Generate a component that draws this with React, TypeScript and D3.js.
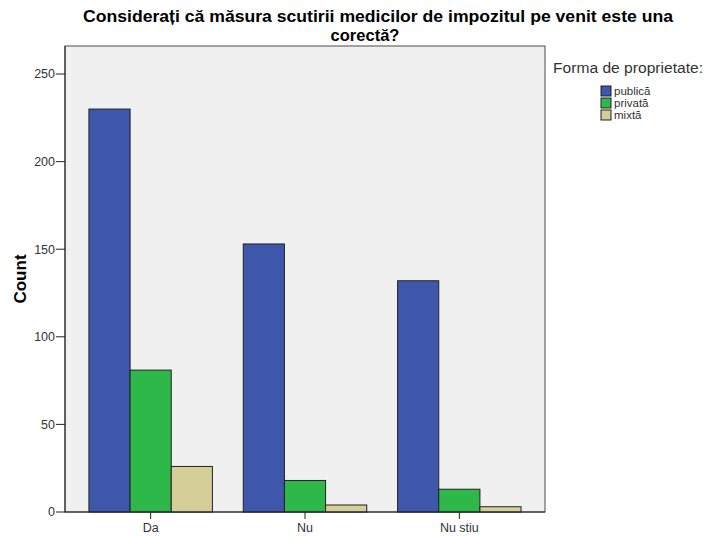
import { scaleBand, scaleLinear } from "d3";

const categories = ["Da", "Nu", "Nu stiu"];
const seriesNames = ["publică", "privată", "mixtă"];
const publica = [230, 153, 132];
const privata = [81, 18, 13];
const mixta = [26, 4, 3];
const yTicks = [0, 50, 100, 150, 200, 250];

const COLORS = ["#3e57aa", "#2fb84a", "#d4cf98"];
const FONT = "'Liberation Sans', Arial, sans-serif";

const WIDTH = 704;
const HEIGHT = 536;
const PLOT = { left: 65, right: 545, top: 46, bottom: 512 };

export default function App() {
  const values = [publica, privata, mixta];

  const x = scaleBand<string>()
    .domain(categories)
    .range([PLOT.left, PLOT.right])
    .paddingInner(0.2)
    .paddingOuter(0.155);

  const sub = scaleBand<string>()
    .domain(seriesNames)
    .range([0, x.bandwidth()]);

  const y = scaleLinear().domain([0, 266]).range([PLOT.bottom, PLOT.top]);

  return (
    <svg
      width={WIDTH}
      height={HEIGHT}
      style={{ position: "absolute", left: 0, top: 0, background: "#fff" }}
      fontFamily={FONT}
    >
      <text
        x={378}
        y={22}
        textAnchor="middle"
        fontSize={16.5}
        fontWeight="bold"
        fill="#000"
        textLength={590}
        lengthAdjust="spacingAndGlyphs"
      >
        Considerați că măsura scutirii medicilor de impozitul pe venit este una
      </text>
      <text x={365} y={41} textAnchor="middle" fontSize={16.5} fontWeight="bold" fill="#000">
        corectă?
      </text>

      <rect
        x={PLOT.left}
        y={PLOT.top}
        width={PLOT.right - PLOT.left}
        height={PLOT.bottom - PLOT.top}
        fill="#f0f0f0"
        stroke="#4a4a4a"
        strokeWidth={1}
      />

      {categories.map((cat, ci) =>
        seriesNames.map((s, si) => {
          const v = values[si][ci];
          const bx = (x(cat) ?? 0) + (sub(s) ?? 0);
          return (
            <rect
              key={`${cat}-${s}`}
              x={bx}
              y={y(v)}
              width={sub.bandwidth()}
              height={y(0) - y(v)}
              fill={COLORS[si]}
              stroke="#222"
              strokeWidth={1}
            />
          );
        })
      )}

      <line x1={PLOT.left} x2={PLOT.left} y1={PLOT.top} y2={PLOT.bottom} stroke="#222" />
      <line x1={PLOT.left} x2={PLOT.right} y1={PLOT.bottom} y2={PLOT.bottom} stroke="#222" />

      {yTicks.map((t) => (
        <g key={t} transform={`translate(${PLOT.left},${y(t)})`}>
          <line x1={-9} x2={0} stroke="#222" />
          <text x={-10} dy="0.35em" textAnchor="end" fontSize={12.5} fill="#333">
            {t}
          </text>
        </g>
      ))}

      {categories.map((cat) => {
        const cx = (x(cat) ?? 0) + x.bandwidth() / 2;
        return (
          <g key={cat} transform={`translate(${cx},${PLOT.bottom})`}>
            <line y1={0} y2={7} stroke="#222" />
            <text y={20} textAnchor="middle" fontSize={12.5} fill="#333">
              {cat}
            </text>
          </g>
        );
      })}

      <text
        transform={`translate(26,${(PLOT.top + PLOT.bottom) / 2}) rotate(-90)`}
        textAnchor="middle"
        fontSize={17}
        fontWeight="bold"
        fill="#000"
      >
        Count
      </text>

      <text
        x={553}
        y={73}
        fontSize={14}
        fill="#333"
        textLength={150}
        lengthAdjust="spacingAndGlyphs"
      >
        Forma de proprietate:
      </text>
      {seriesNames.map((s, i) => (
        <g key={s} transform={`translate(601,${86 + i * 12})`}>
          <rect width={10} height={10} fill={COLORS[i]} stroke="#222" />
          <text x={13} y={9} fontSize={11.5} fill="#333">
            {s}
          </text>
        </g>
      ))}
    </svg>
  );
}
